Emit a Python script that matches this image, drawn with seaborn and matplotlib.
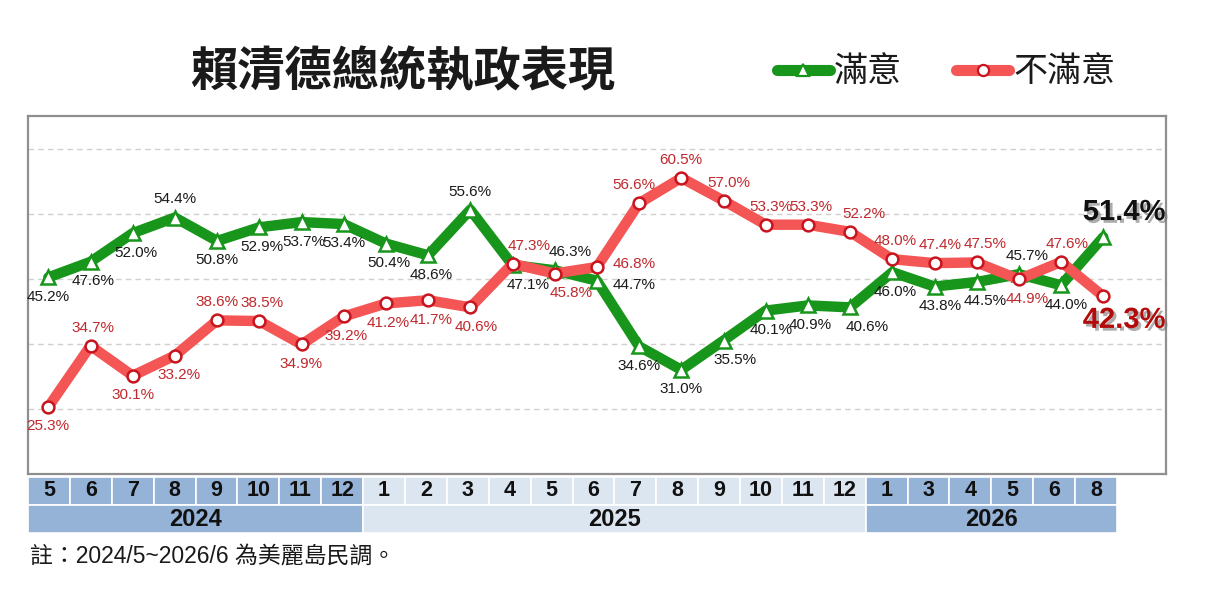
import matplotlib
matplotlib.use("Agg")
import matplotlib.pyplot as plt
import matplotlib.patheffects as pe
from matplotlib import font_manager
from matplotlib.patches import Rectangle
from matplotlib.lines import Line2D
import numpy as np
import pandas as pd
import seaborn as sns

# ---------------- data ----------------
months = ['5', '6', '7', '8', '9', '10', '11', '12',
          '1', '2', '3', '4', '5', '6', '7', '8', '9', '10', '11', '12',
          '1', '3', '4', '5', '6', '8']
years = ['2024'] * 8 + ['2025'] * 12 + ['2026'] * 6
satisfied = [45.2, 47.6, 52.0, 54.4, 50.8, 52.9, 53.7, 53.4,
             50.4, 48.6, 55.6, 47.1, 46.3, 44.7, 34.6, 31.0, 35.5, 40.1, 40.9, 40.6,
             46.0, 43.8, 44.5, 45.7, 44.0, 51.4]
dissatisfied = [25.3, 34.7, 30.1, 33.2, 38.6, 38.5, 34.9, 39.2,
                41.2, 41.7, 40.6, 47.3, 45.8, 46.8, 56.6, 60.5, 57.0, 53.3, 53.3, 52.2,
                48.0, 47.4, 47.5, 44.9, 47.6, 42.3]
series_names = ['滿意', '不滿意']
title = '賴清德總統執政表現'
footnote = '註：2024/5~2026/6 為美麗島民調。'

# ---------------- styles ----------------
# label placement: a = above, b = below, r = right, big = highlighted last value
sat_pos = ['b', 'b', 'b', 'a', 'b', 'b', 'b', 'b', 'b', 'b', 'a', 'b', 'a', 'r',
           'b', 'b', 'b', 'b', 'b', 'b', 'b', 'b', 'b', 'a', 'b', 'big']
dis_pos = ['b', 'a', 'b', 'b', 'a', 'a', 'b', 'b', 'b', 'b', 'b', 'a', 'b', 'r',
           'a', 'a', 'a', 'a', 'a', 'a', 'a', 'a', 'a', 'b', 'a', 'big']
# small horizontal nudges of labels (points)
sat_dx = [0, 2, 2, 0, 0, 2, 2, 0, 2, 2, 0, 11, 11, 0, 0, 0, 8, 4, 2, 12, 2, 4, 6, 6, 4, 0]
dis_dx = [0, 2, 0, 3, 0, 2, 0, 2, 2, 2, 4, 12, 12, 0, -4, 0, 4, 4, 2, 10, 2, 4, 6, 6, 4, 0]

GREEN = '#17961b'
RED = '#f45555'
RED_EDGE = '#c8141e'
RED_TXT = '#c0282d'
DARK_CELL = '#95b3d7'
LIGHT_CELL = '#dce6f1'
CJK = ['Noto Sans CJK TC', 'DejaVu Sans']

available = {f.name for f in font_manager.fontManager.ttflist}
if 'Liberation Sans Narrow' in available:
    NARROW = ['Liberation Sans Narrow', 'DejaVu Sans']
    LBL_SIZE, BIG_SIZE = 12.5, 24
else:
    NARROW = ['Liberation Sans', 'DejaVu Sans']
    LBL_SIZE, BIG_SIZE = 11, 21

sns.set_theme(style='white')
plt.rcParams['font.family'] = ['Liberation Sans', 'Noto Sans CJK TC', 'DejaVu Sans']

W, H = 1221, 591
fig = plt.figure(figsize=(W / 100, H / 100), dpi=100)
fig.patch.set_facecolor('white')

x0, x1 = 28, 1166
step, first = 42.2, 48.3
ax = fig.add_axes([x0 / W, 1 - 474 / H, (x1 - x0) / W, (474 - 116) / H])

n = len(months)
df = pd.DataFrame({'idx': np.arange(n), 'sat': satisfied, 'dis': dissatisfied})

sns.lineplot(data=df, x='idx', y='sat', ax=ax, color=GREEN, lw=7.5,
             marker='^', markersize=10, markerfacecolor='white',
             markeredgecolor=GREEN, markeredgewidth=1.8,
             solid_joinstyle='round', solid_capstyle='round', zorder=3)
sns.lineplot(data=df, x='idx', y='dis', ax=ax, color=RED, lw=7.5,
             marker='o', markersize=8.5, markerfacecolor='white',
             markeredgecolor=RED_EDGE, markeredgewidth=1.8,
             solid_joinstyle='round', solid_capstyle='round', zorder=4)

ax.set_xlim(-(first - x0) / step, (x1 - first) / step)
ax.set_ylim(15, 70)
ax.set_yticks([25, 35, 45, 55, 65])
ax.set_xticks([])
ax.tick_params(left=False, labelleft=False)
ax.yaxis.grid(True, linestyle=(0, (4, 3)), color='#d0d0d0', lw=1)
ax.set_xlabel('')
ax.set_ylabel('')
for s in ax.spines.values():
    s.set_color('#8f8f8f')
    s.set_linewidth(1.6)


def place(vals, pos, dxs, color, big_color, big_dy):
    for i, (v, p, dx) in enumerate(zip(vals, pos, dxs)):
        txt = f'{v:.1f}%'
        if p == 'big':
            t = ax.annotate(txt, (i, v), xytext=(15, big_dy), textcoords='offset points',
                            ha='center', va='center', fontsize=BIG_SIZE, fontweight='bold',
                            color=big_color, family=NARROW, zorder=6,
                            annotation_clip=False)
            t.set_path_effects([pe.SimplePatchShadow(offset=(2, -2), shadow_rgbFace='#777777', alpha=0.6),
                                pe.Normal()])
            continue
        if p == 'a':
            off = (dx, 13)
        elif p == 'b':
            off = (dx, -14)
        else:
            off = (27, -3 if color != RED_TXT else 2)
        ax.annotate(txt, (i, v), xytext=off, textcoords='offset points',
                    ha='center', va='center', fontsize=LBL_SIZE, color=color,
                    family=NARROW, zorder=6)


place(satisfied, sat_pos, sat_dx, '#1a1a1a', '#111111', 18)
place(dissatisfied, dis_pos, dis_dx, RED_TXT, '#b40a0a', -17)

# ---------------- month / year table ----------------
tx1 = 1117
tax = fig.add_axes([x0 / W, 1 - 533 / H, (tx1 - x0) / W, (533 - 477) / H])
tax.set_xlim(-0.5, n - 0.5)
tax.set_ylim(0, 2)
tax.axis('off')
dark_years = {'2024', '2026'}
for i, (m, y) in enumerate(zip(months, years)):
    fc = DARK_CELL if y in dark_years else LIGHT_CELL
    tax.add_patch(Rectangle((i - 0.5, 1), 1, 1, facecolor=fc, edgecolor='white', lw=1.2))
    tax.text(i, 1.5, m, ha='center', va='center', fontsize=15.5, fontweight='bold',
             color='#111111', family=['Liberation Sans', 'DejaVu Sans'])
year_order = list(dict.fromkeys(years))
for y in year_order:
    idxs = [i for i, yy in enumerate(years) if yy == y]
    fc = DARK_CELL if y in dark_years else LIGHT_CELL
    tax.add_patch(Rectangle((idxs[0] - 0.5, 0), len(idxs), 1, facecolor=fc,
                            edgecolor='white', lw=1.2))
    tax.text((idxs[0] + idxs[-1]) / 2, 0.5, y, ha='center', va='center', fontsize=17,
             fontweight='bold', color='#111111', family=['Liberation Sans', 'DejaVu Sans'])

# ---------------- title, legend, footnote ----------------
fig.text(403 / W, 1 - 73 / H, title, ha='center', va='center', fontsize=34,
         fontweight='bold', color='#1a1a1a', family=CJK)

handles = [
    Line2D([], [], color=GREEN, lw=8, marker='^', markersize=9, markerfacecolor='white',
           markeredgecolor=GREEN, markeredgewidth=1.6, solid_capstyle='round'),
    Line2D([], [], color=RED, lw=8, marker='o', markersize=8, markerfacecolor='white',
           markeredgecolor=RED_EDGE, markeredgewidth=1.6, solid_capstyle='round'),
]
leg = fig.legend(handles, series_names, loc='center', bbox_to_anchor=(946 / W, 1 - 72 / H),
                 ncol=2, frameon=False, handlelength=1.55, handletextpad=0.12,
                 columnspacing=1.6, prop={'family': CJK, 'size': 24.5})
for t in leg.get_texts():
    t.set_color('#1a1a1a')

fig.text(30 / W, 1 - 556 / H, footnote, ha='left', va='center', fontsize=16.5,
         color='#1a1a1a', family=['Liberation Sans', 'Noto Sans CJK TC', 'DejaVu Sans'])

fig.savefig('out.png', dpi=100, facecolor='white')
